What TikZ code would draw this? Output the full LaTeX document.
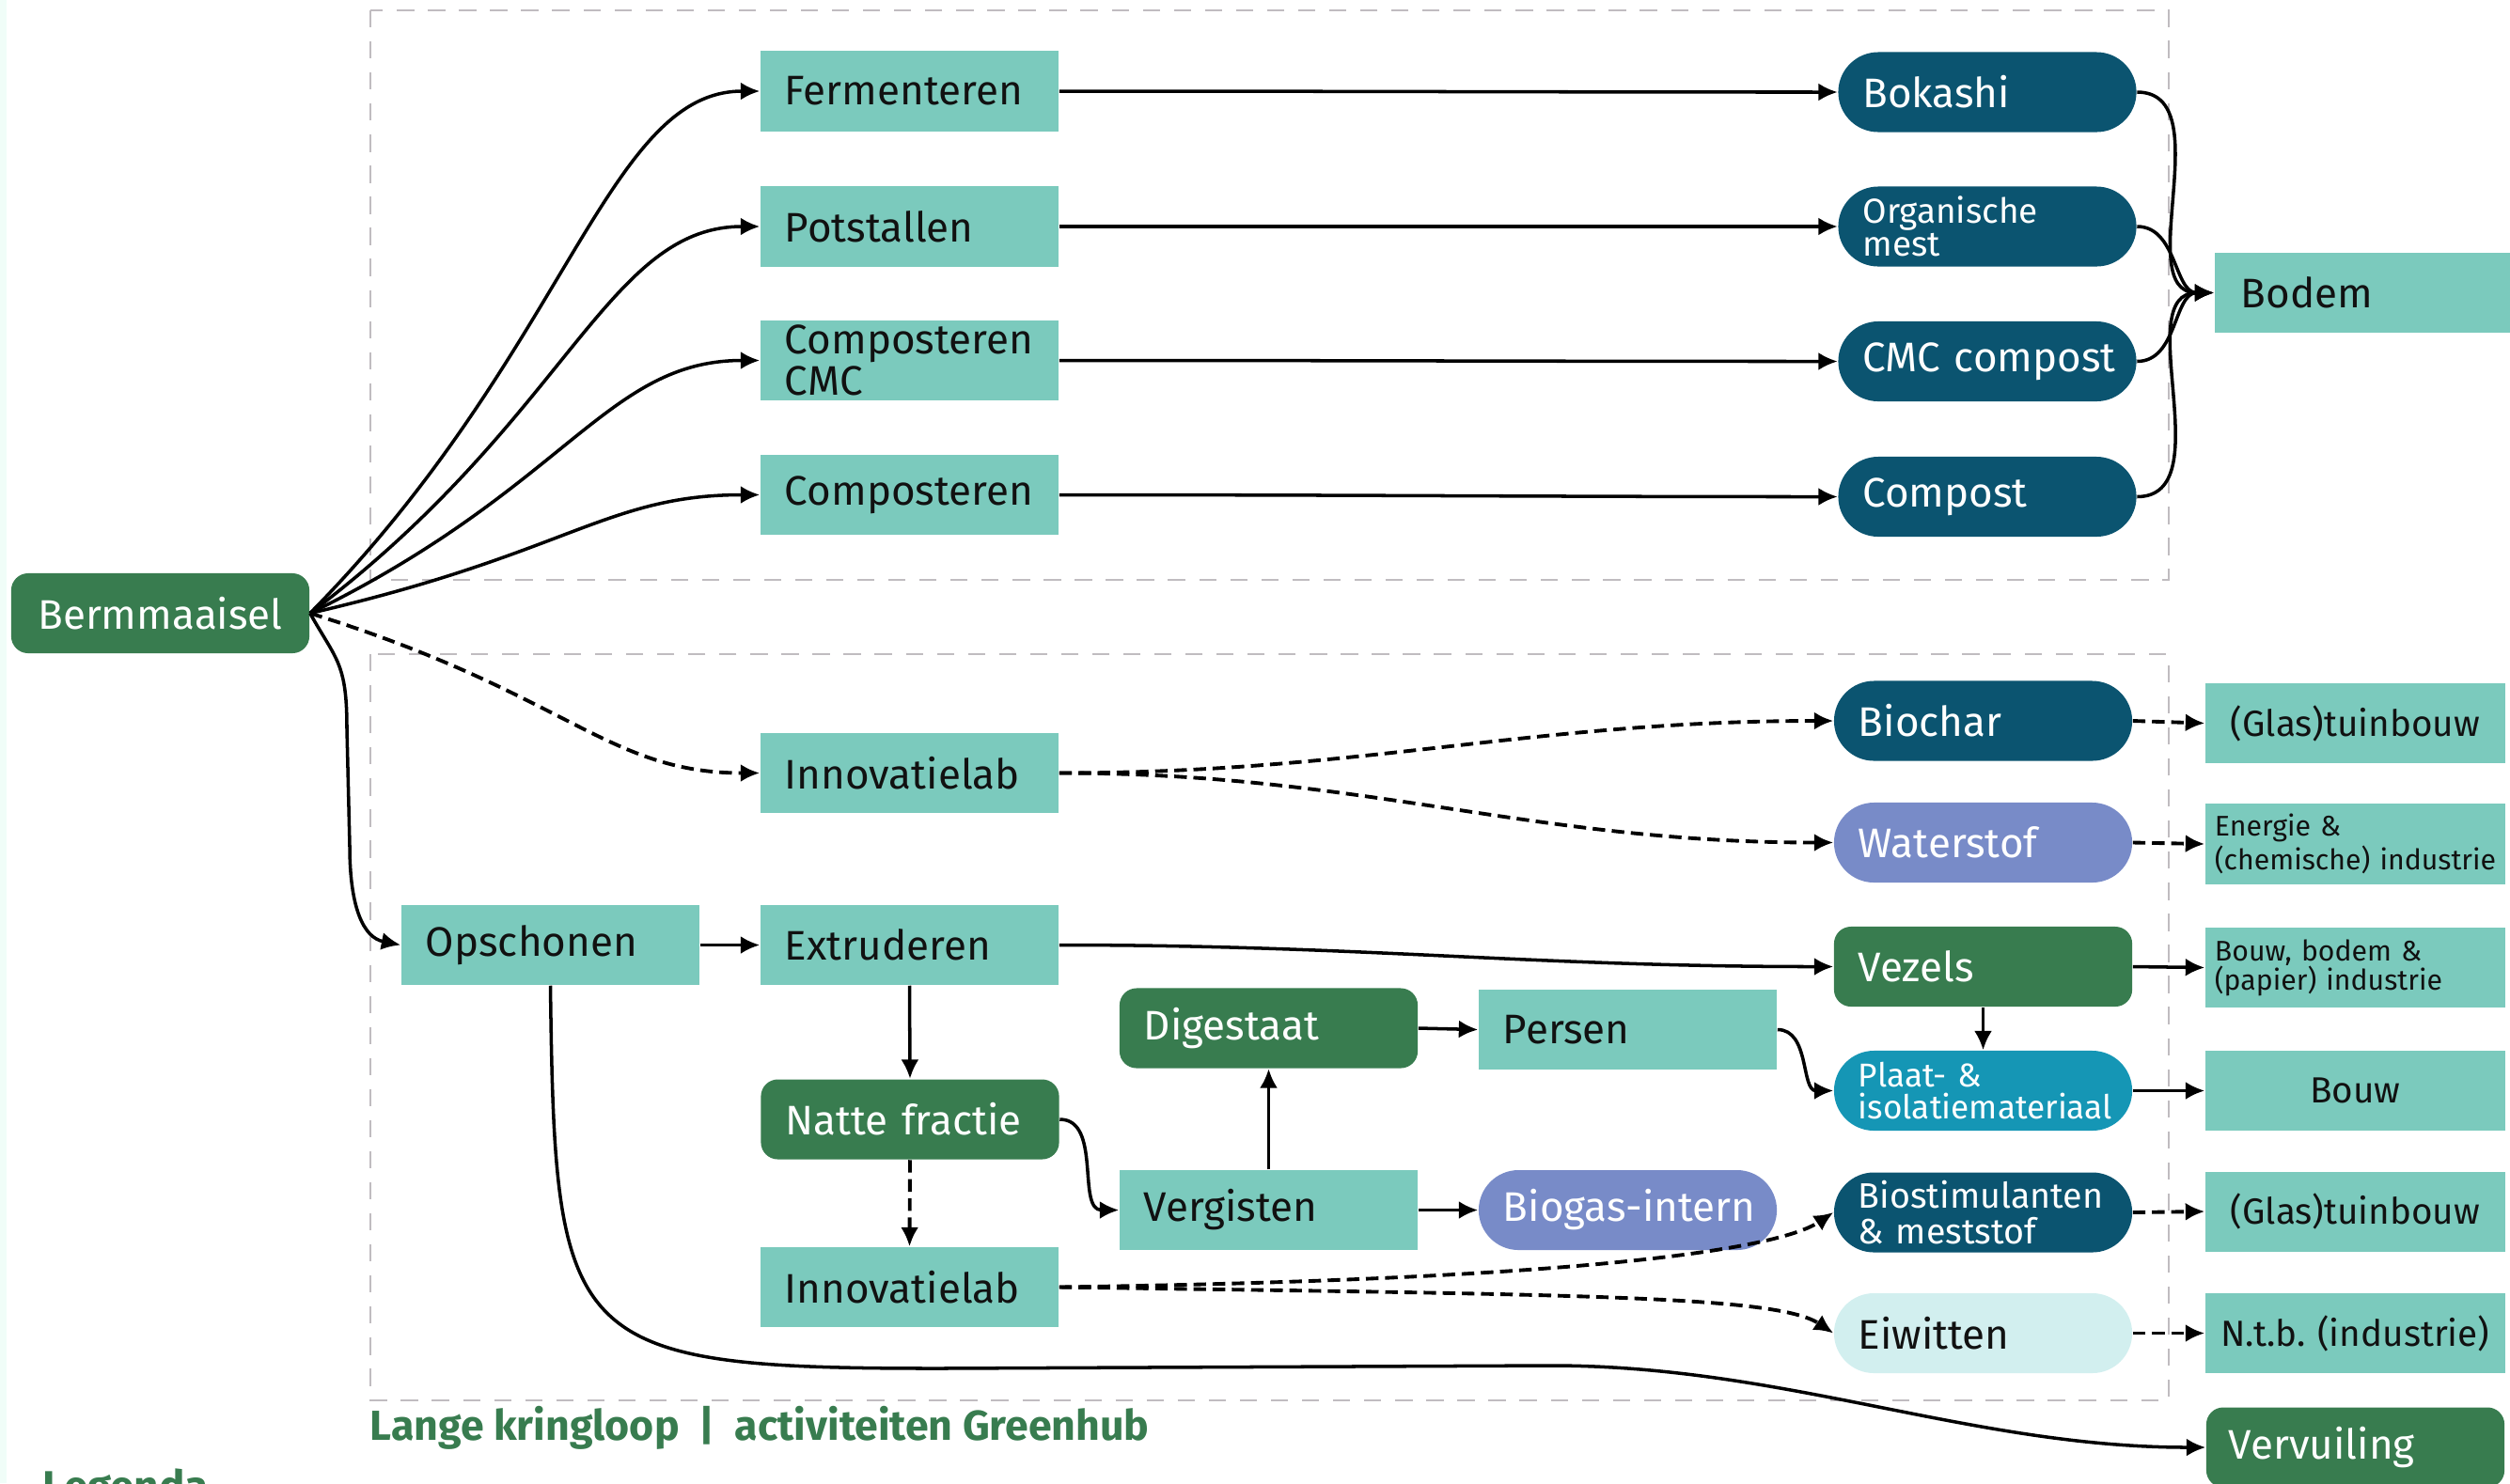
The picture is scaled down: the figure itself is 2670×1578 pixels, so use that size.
\documentclass[tikz,border=0pt]{standalone}
\usepackage{fontspec}
\setmainfont{Fira Sans}
\usetikzlibrary{arrows.meta}
\definecolor{cTeal}{RGB}{123,202,189}
\definecolor{cGreen}{RGB}{56,124,79}
\definecolor{cNavy}{RGB}{11,84,112}
\definecolor{cLav}{RGB}{120,139,200}
\definecolor{cBlue}{RGB}{21,150,181}
\definecolor{cPale}{RGB}{210,239,239}
\definecolor{cGray}{RGB}{192,188,192}
\definecolor{cMint}{RGB}{240,253,248}
\definecolor{cInk}{RGB}{17,17,17}
\newcommand\myfsA{\fontsize{12.5}{12.5}\selectfont}
\newcommand\myfsB{\fontsize{10.5}{9.8}\selectfont}
\newcommand\myfsC{\fontsize{8.6}{8.8}\selectfont}
\newcommand\myfsD{\fontsize{11}{11}\selectfont}
\tikzset{
  box/.style={rectangle, minimum height=0.85cm, inner ysep=0pt, inner xsep=0.26cm,
    text width=2.65cm, align=left, font=\myfsA,
    execute at begin node={\frenchspacing\hyphenpenalty=10000\exhyphenpenalty=10000\hbadness=10000\hfuzz=50pt}},
  proc/.style={box, fill=cTeal, text=cInk},
  grn/.style={box, fill=cGreen, text=white, rounded corners=0.18cm},
  pill/.style={box, rounded corners=0.425cm, text=white},
  outb/.style={box, fill=cTeal, text=cInk, text width=2.99cm, inner xsep=0.1cm},
  gbox/.style={draw=cGray, line width=0.8pt, dash pattern=on 5.2pt off 4.2pt},
  con/.style={draw=black, line width=1pt, -{Latex[length=5.8pt,width=5.4pt]}},
  dcon/.style={con, line width=1.1pt, dash pattern=on 3.8pt off 2pt},
}
\begin{document}
\begin{tikzpicture}[x=0.01cm,y=0.01cm]
\useasboundingbox (0,0) rectangle (2670,-1578);
\fill[cMint] (0,0) rectangle (7,-1578);

% dashed frames
\draw[gbox] (394,-11) rectangle (2307,-617);
\draw[gbox] (394,-696) rectangle (2307,-1490);

% source
\node[grn, align=center] (berm) at (170.5,-652.5) {Bermmaaisel};

% top section
\node[proc] (ferm) at (967.5,-97) {Fermenteren};
\node[proc] (pots) at (967.5,-241) {Potstallen};
\node[proc] (ccmc) at (967.5,-383.5) {Composteren\\CMC};
\node[proc] (comp) at (967.5,-526.5) {Composteren};
\node[pill, fill=cNavy] (boka) at (2114,-98) {Bokashi};
\node[pill, fill=cNavy, font=\myfsB] (orga) at (2114,-241) {Organische\\mest};
\node[pill, fill=cNavy] (cmcc) at (2114,-384.5) {CMC~compost};
\node[pill, fill=cNavy] (cpst) at (2114,-528.5) {Compost};
\node[proc, text width=2.78cm, inner xsep=0.28cm] (bodem) at (2523,-311.5) {Bodem};

% bottom section
\node[proc] (inn1) at (967.5,-822.5) {Innovatielab};
\node[proc] (ops) at (585.5,-1005.5) {Opschonen};
\node[proc] (extr) at (967.5,-1005.5) {Extruderen};
\node[grn] (natte) at (968,-1191) {Natte~fractie};
\node[proc] (inn2) at (967.5,-1369.5) {Innovatielab};
\node[grn] (dig) at (1349.5,-1094) {Digestaat};
\node[proc] (pers) at (1731.5,-1095.5) {Persen};
\node[proc] (verg) at (1349.5,-1287.5) {Vergisten};
\node[pill, fill=cLav] (biog) at (1731.5,-1287.5) {Biogas-intern};
\node[pill, fill=cNavy] (bioc) at (2109.5,-767) {Biochar};
\node[pill, fill=cLav] (wats) at (2109.5,-896.5) {Waterstof};
\node[grn] (vez) at (2109.5,-1028.5) {Vezels};
\node[pill, fill=cBlue, font=\fontsize{10}{9.4}\selectfont] (plaat) at (2109.5,-1160.5) {Plaat-~\&\\isolatiemateriaal};
\node[pill, fill=cNavy, font=\fontsize{10.7}{11}\selectfont] (biost) at (2109.5,-1290) {Biostimulanten\\\&~meststof};
\node[pill, fill=cPale, text=cInk] (eiw) at (2109.5,-1418.5) {Eiwitten};

% outlets
\node[outb, align=center, font=\myfsD] (r1) at (2505.5,-769.5) {(Glas)tuinbouw};
\node[outb, font=\myfsC] (r2) at (2505.5,-898) {Energie~\&\\(chemische)~industrie};
\node[outb, font=\myfsC] (r3) at (2505.5,-1029.5) {Bouw,~bodem~\&\\(papier)~industrie};
\node[outb, align=center, font=\myfsD] (r4) at (2505.5,-1160.5) {Bouw};
\node[outb, align=center, font=\myfsD] (r5) at (2505.5,-1289) {(Glas)tuinbouw};
\node[outb, align=center, font=\myfsD] (r6) at (2505.5,-1418.5) {N.t.b.~(industrie)};
\node[grn, text width=2.69cm, inner xsep=0.24cm] (verv) at (2505.5,-1540) {Vervuiling};

% captions
\node[anchor=base west, inner sep=0pt, text=cGreen, font=\fontsize{12.7}{12.7}\selectfont\bfseries] (ttl) at (393,-1532) {Lange kringloop~~|~~activiteiten Greenhub};
\node[anchor=base west, inner sep=0pt, text=cGreen, font=\fontsize{13}{13}\selectfont\bfseries] (leg) at (45,-1597) {Legenda};

% connectors: top
\draw[con] (berm.east) .. controls +(274,278) and +(-163,0) .. (ferm.west);
\draw[con] (berm.east) .. controls +(274,206) and +(-163,0) .. (pots.west);
\draw[con] (berm.east) .. controls +(274,134) and +(-163,0) .. (ccmc.west);
\draw[con] (berm.east) .. controls +(274,63) and +(-163,0) .. (comp.west);
\draw[con] (ferm.east) to[out=0,in=180] (boka.west);
\draw[con] (pots.east) to[out=0,in=180] (orga.west);
\draw[con] (ccmc.east) to[out=0,in=180] (cmcc.west);
\draw[con] (comp.east) to[out=0,in=180] (cpst.west);
\draw[con] (boka.east) to[out=0,in=180] (bodem.west);
\draw[con] (orga.east) to[out=0,in=180] (bodem.west);
\draw[con] (cmcc.east) to[out=0,in=180] (bodem.west);
\draw[con] (cpst.east) to[out=0,in=180] (bodem.west);

% connectors: bottom
\draw[dcon] (berm.east) .. controls +(274,-85) and +(-163,0) .. (inn1.west);
\coordinate (bo1) at (369,-775);
\coordinate (bo2) at (372,-900);
\draw[con] (berm.east) .. controls +(28,-50) and +(0,70) .. (bo1) -- (bo2) .. controls +(0,-65) and +(-40,8) .. (ops.west);
\draw[con] (ops.east) -- (extr.west);
\draw[con] (extr.east) to[out=0,in=180] (vez.west);
\draw[con] (extr.south) -- (natte.north);
\draw[dcon] (natte.south) -- (inn2.north);
\draw[con] (natte.east) to[out=0,in=180] (verg.west);
\draw[con] (verg.north) -- (dig.south);
\draw[con] (dig.east) -- (pers.west);
\draw[con] (verg.east) -- (biog.west);
\draw[con] (pers.east) to[out=0,in=180] (plaat.west);
\draw[con] (vez.south) -- (plaat.north);
\draw[dcon] (inn1.east) to[out=0,in=180] (bioc.west);
\draw[dcon] (inn1.east) to[out=0,in=180] (wats.west);
\draw[dcon] (inn2.east) .. controls +(550,8) and +(-60,-40) .. (biost.west);
\draw[dcon] (inn2.east) .. controls +(550,-8) and +(-60,40) .. (eiw.west);
\coordinate (vv1) at (1000,-1456);
\coordinate (vv2) at (1650,-1453);
\draw[con] (ops.south) .. controls +(5,-383) and +(-400,0) .. (vv1) -- (vv2) .. controls +(250,0) and +(-250,0) .. (verv.west);

% outlets connectors
\draw[dcon] (bioc.east) -- (r1.west);
\draw[dcon] (wats.east) -- (r2.west);
\draw[con] (vez.east) -- (r3.west);
\draw[con] (plaat.east) -- (r4.west);
\draw[dcon] (biost.east) -- (r5.west);
\draw[dcon] (eiw.east) -- (r6.west);
\end{tikzpicture}
\end{document}
